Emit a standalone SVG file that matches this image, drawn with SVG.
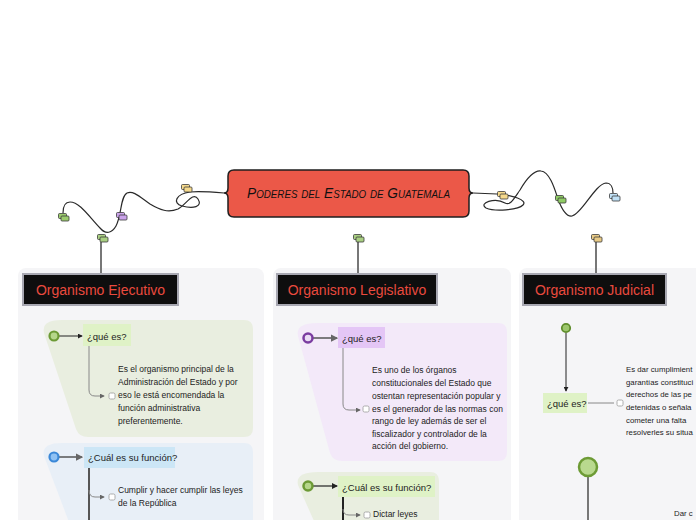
<svg xmlns="http://www.w3.org/2000/svg" xmlns:xlink="http://www.w3.org/1999/xlink" width="696" height="520" viewBox="0 0 696 520">
<style>
.panel{fill:#f5f5f7}
.hdr rect{fill:#0e0e0e;stroke:#a8a8b2;stroke-width:2}
.hdr text{fill:#ea4a3e;font-family:"Liberation Sans",Arial,sans-serif;font-size:14px;text-anchor:middle}
.body{font-family:"Liberation Sans",Arial,sans-serif;font-size:8.5px;fill:#1c1c1c}
.rt{font-size:7.8px}
.lbl{font-family:"Liberation Sans",Arial,sans-serif;font-size:9.5px;fill:#1c1c1c}
.chk{fill:#fff;stroke:#9a9a9a;stroke-width:0.8}
.wire{fill:none;stroke:#2a2a2a;stroke-width:1.2}
.stem{fill:none;stroke:#777;stroke-width:2}
.thin{fill:none;stroke:#888;stroke-width:1}
</style>
<defs>
<marker id="ah" viewBox="0 0 6 6" refX="5" refY="3" markerWidth="5" markerHeight="5" orient="auto"><path d="M0,0 L6,3 L0,6 Z" fill="#222"/></marker>
<marker id="ahg" viewBox="0 0 6 6" refX="5" refY="3" markerWidth="5" markerHeight="5" orient="auto"><path d="M0,0 L6,3 L0,6 Z" fill="#666"/></marker>
<symbol id="ic" overflow="visible"><rect x="0.5" y="0.5" width="8" height="5" rx="1" stroke="#3a3a3a" stroke-width="0.8"/><rect x="3" y="3" width="8" height="5" rx="1" stroke="#3a3a3a" stroke-width="0.8"/></symbol>
</defs>

<!-- panels -->
<rect class="panel" x="18" y="268" width="246" height="260" rx="8"/>
<rect class="panel" x="273" y="268" width="238" height="260" rx="8"/>
<rect class="panel" x="519" y="268" width="190" height="260" rx="8"/>

<!-- section backgrounds -->
<path d="M62,320 H244 Q253,320 253,329 V428 Q253,437 244,437 H88 Q79,437 76,429 L44,333 Q41,320 62,320 Z" fill="#e9eee0"/>
<path d="M62,443 H244 Q253,443 253,452 V530 H72 L44,456 Q41,443 62,443 Z" fill="#e8eff7"/>
<path d="M318,323 H498 Q507,323 507,332 V452 Q507,461 498,461 H342 Q333,461 330,453 L298,336 Q295,323 318,323 Z" fill="#f3e9f9"/>
<path d="M318,472 H430 Q439,472 439,481 V530 H318 L298,485 Q295,472 318,472 Z" fill="#e9eee0"/>

<g id="connectors">
<path class="wire" d="M224,193 C212,192 200,191 190,192 C176,194 172,203 182,206 C193,209 203,207 198,199 C193,191 186,205 178,209 C168,213 160,210 150,204 C140,197 133,190 127,193 C120,197 122,215 116,226 C112,233 106,235 100,228 C90,218 80,202 70,202 C64,202 63,208 63,213"/>
<path class="wire" d="M473,193 L497,194 C512,195 528,200 523,205 C518,210 495,212 486,208 C478,203 495,197 505,203 C510,206 513,200 520,190 C527,178 534,170 541,171 C550,172 555,190 558,199 C562,210 566,217 572,216 C582,214 595,184 606,183 C611,183 613,188 613,193"/>
<path class="stem" d="M101,242 V274"/>
<path class="stem" d="M358,242 V274"/>
<path class="stem" d="M596,242 V274"/>
<path d="M59,336 H82" stroke="#222" stroke-width="1" marker-end="url(#ah)"/>
<path d="M59,457 H82" stroke="#555" stroke-width="1.5" marker-end="url(#ahg)"/>
<path d="M313,338 H337" stroke="#555" stroke-width="1.5" marker-end="url(#ahg)"/>
<path d="M313,486 H337" stroke="#222" stroke-width="1.2" marker-end="url(#ah)"/>
<path class="thin" d="M89,346 V390 Q89,396 95,396 H104" marker-end="url(#ahg)"/>
<path d="M89,467 V520" stroke="#555" stroke-width="2" fill="none"/>
<path class="thin" d="M89,490 Q89,497 95,497 H104" marker-end="url(#ahg)"/>
<path class="thin" d="M343,348 V404 Q343,410 349,410 H360" marker-end="url(#ahg)"/>
<path d="M343,497 V520" stroke="#222" stroke-width="2" fill="none"/>
<path class="thin" d="M343,509 Q343,515 349,515 H360" marker-end="url(#ahg)"/>
<path d="M566,333 V391" stroke="#222" stroke-width="1" fill="none" marker-end="url(#ah)"/>
<path class="thin" d="M588,403 H614"/>
<path class="stem" d="M588,477 V520"/>
</g>

<g id="title">
<path d="M234,170 H463 Q469,170 469,176 V188 Q469,193 473,193 Q469,193 469,198 V211 Q469,217 463,217 H234 Q228,217 228,211 V198 Q228,193 224,193 Q228,193 228,188 V176 Q228,170 234,170 Z" fill="#eb5848" stroke="#1e1e1e" stroke-width="1.5"/>
<text x="348.5" y="198" font-family="Liberation Sans, Arial, sans-serif" font-size="14" font-style="italic" font-variant="small-caps" fill="#111" text-anchor="middle" textLength="203" lengthAdjust="spacingAndGlyphs">Poderes del Estado de Guatemala</text>
</g>

<g id="icons">
<use href="#ic" x="181" y="184" fill="#f5d98c"/>
<use href="#ic" x="116" y="212" fill="#caa2ea"/>
<use href="#ic" x="58" y="213" fill="#9ccb6e"/>
<use href="#ic" x="97" y="234" fill="#a9cf82"/>
<use href="#ic" x="353" y="234" fill="#a9cf82"/>
<use href="#ic" x="497" y="191" fill="#f5d98c"/>
<use href="#ic" x="555" y="195" fill="#8fcb65"/>
<use href="#ic" x="609" y="193" fill="#bfe0f5"/>
<use href="#ic" x="591" y="234" fill="#e8ca86"/>
</g>

<g id="hdr-ejecutivo" class="hdr"><rect x="23" y="274" width="155" height="31"/><text x="100.5" y="295">Organismo Ejecutivo</text></g>
<g id="hdr-legislativo" class="hdr"><rect x="277" y="274" width="160" height="31"/><text x="357" y="295">Organismo Legislativo</text></g>
<g id="hdr-judicial" class="hdr"><rect x="523" y="274" width="143" height="31"/><text x="594.5" y="295">Organismo Judicial</text></g>

<g id="eje-que">
<circle cx="54" cy="336" r="4.5" fill="#b5d68a" stroke="#6c9a35" stroke-width="2.2"/>
<rect x="83" y="324" width="48" height="22" fill="#dff2c6"/>
<text class="lbl" x="87" y="340">¿qué es?</text>
</g>
<g id="eje-que-txt">
<rect class="chk" x="109" y="393" width="6" height="6" rx="1.5"/>
<text class="body" x="118" y="372">Es el organismo principal de la</text>
<text class="body" x="118" y="385">Administración del Estado y por</text>
<text class="body" x="118" y="398">eso le está encomendada la</text>
<text class="body" x="118" y="411">función administrativa</text>
<text class="body" x="118" y="424">preferentemente.</text>
</g>
<g id="eje-funcion">
<circle cx="54" cy="457" r="4.5" fill="#8fc1f3" stroke="#3b88d8" stroke-width="2.2"/>
<rect x="84" y="447" width="91" height="21" fill="#cce6f6"/>
<text class="lbl" x="88" y="461" font-size="9">¿Cuál es su función?</text>
</g>
<g id="eje-funcion-txt">
<rect class="chk" x="109" y="494" width="6" height="6" rx="1.5"/>
<text class="body" x="118" y="493">Cumplir y hacer cumplir las leyes</text>
<text class="body" x="118" y="506">de la República</text>
</g>

<g id="leg-que">
<circle cx="308" cy="338" r="4.5" fill="#eadcf5" stroke="#7a3ba0" stroke-width="2.5"/>
<rect x="338" y="327" width="47" height="21" fill="#e4c6f6"/>
<text class="lbl" x="342" y="342">¿qué es?</text>
</g>
<g id="leg-que-txt">
<rect class="chk" x="363" y="406" width="6" height="6" rx="1.5"/>
<text class="body" x="372" y="373">Es uno de los órganos</text>
<text class="body" x="372" y="386">constitucionales del Estado que</text>
<text class="body" x="372" y="399">ostentan representación popular y</text>
<text class="body" x="372" y="412">es el generador de las normas con</text>
<text class="body" x="372" y="424">rango de ley además de ser el</text>
<text class="body" x="372" y="437">fiscalizador y controlador de la</text>
<text class="body" x="372" y="449">acción del gobierno.</text>
</g>
<g id="leg-funcion">
<circle cx="308" cy="486" r="4.5" fill="#b5d68a" stroke="#6c9a35" stroke-width="2.5"/>
<rect x="338" y="476" width="97" height="21" fill="#dff2c6"/>
<text class="lbl" x="342" y="491">¿Cuál es su función?</text>
</g>
<g id="leg-funcion-txt">
<rect class="chk" x="364" y="512" width="6" height="6" rx="1.5"/>
<text class="body" x="373" y="517">Dictar leyes</text>
</g>

<g id="jud-top"><circle cx="566" cy="328" r="4.2" fill="#9cc66c" stroke="#5f8d2c" stroke-width="1.8"/></g>
<g id="jud-que">
<rect x="543" y="393" width="44" height="20" fill="#dff2c6"/>
<text class="lbl" x="547" y="407">¿qué es?</text>
</g>
<g id="jud-que-txt">
<rect class="chk" x="617" y="400" width="6" height="6" rx="1.5"/>
<text class="body rt" x="626" y="372">Es dar cumplimient</text>
<text class="body rt" x="626" y="385">garantías constituci</text>
<text class="body rt" x="626" y="397">derechos de las pe</text>
<text class="body rt" x="626" y="410">detenidas o señala</text>
<text class="body rt" x="626" y="423">cometer una falta</text>
<text class="body rt" x="626" y="435">resolverles su situa</text>
</g>
<g id="jud-funcion"><circle cx="588" cy="467" r="9" fill="#b9d98e" stroke="#6d9b35" stroke-width="2.5"/></g>
<g id="jud-funcion-txt"><text class="body rt" x="674" y="516">Dar c</text></g>
</svg>
